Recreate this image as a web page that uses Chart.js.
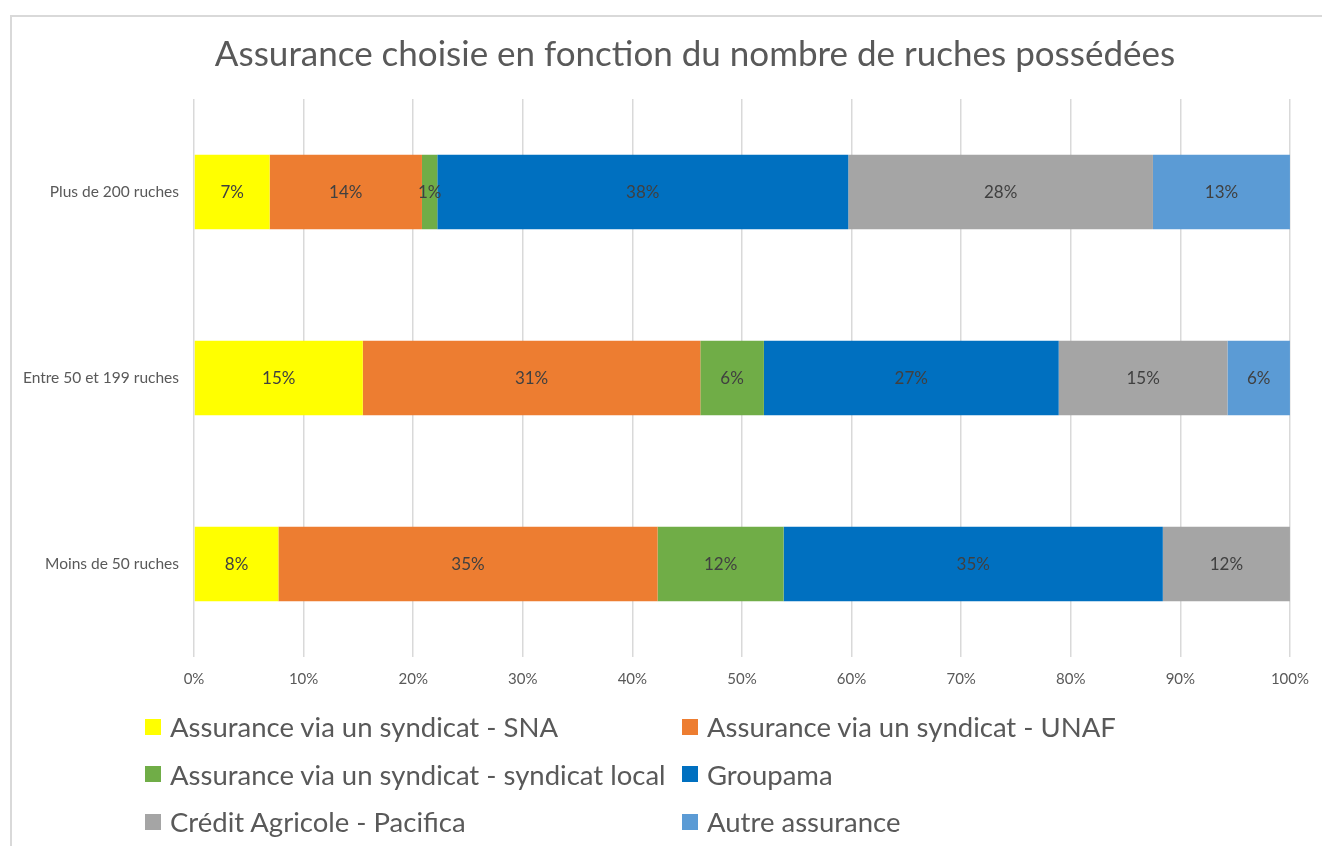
<!DOCTYPE html>
<html>
<head>
<meta charset="utf-8">
<script src="https://cdn.jsdelivr.net/npm/chart.js@4.4.1/dist/chart.umd.min.js"></script>
<style>
  html, body { margin: 0; padding: 0; background: #fff; }
  #wrap { position: relative; width: 1322px; height: 846px; overflow: hidden; font-family: Lato, sans-serif; }
  #frame { position: absolute; left: 10px; top: 15px; width: 1400px; height: 900px;
           border-left: 2px solid #d9d9d9; border-top: 2px solid #d9d9d9; box-sizing: border-box; }
  #chart { position: absolute; left: 0; top: 0; }
  #title { position: absolute; left: 195px; width: 1000px; top: 30px; text-align: center;
           color: #595959; font-size: 35px; line-height: 44px; white-space: nowrap; }
  #legend { position: absolute; left: 145px; top: 703px; display: grid;
            grid-template-columns: 537px 400px; row-gap: 0; }
  .item { display: flex; align-items: center; height: 47.5px; color: #595959; font-size: 27.5px; white-space: nowrap; }
  .box { width: 16px; height: 16px; margin-right: 9px; flex: none; }
</style>
</head>
<body>
<div id="wrap">
  <div id="frame"></div>
  <canvas id="chart" width="1322" height="846"></canvas>
  <div id="title">Assurance choisie en fonction du nombre de ruches possédées</div>
  <div id="legend"></div>
</div>
<script>
// Données (pourcentages par tranche de ruches, de haut en bas)
const categories = ['Plus de 200 ruches', 'Entre 50 et 199 ruches', 'Moins de 50 ruches'];
const seriesNames = [
    'Assurance via un syndicat - SNA',
    'Assurance via un syndicat - UNAF',
    'Assurance via un syndicat - syndicat local',
    'Groupama',
    'Crédit Agricole - Pacifica',
    'Autre assurance'
];
const sna = [6.9, 15.4, 7.7];
const unaf = [13.9, 30.8, 34.6];
const syndicatLocal = [1.4, 5.8, 11.5];
const groupama = [37.5, 26.9, 34.6];
const pacifica = [27.8, 15.4, 11.6];
const autre = [12.5, 5.7, 0];
const xTicks = [0, 10, 20, 30, 40, 50, 60, 70, 80, 90, 100];

const colors = ['#FFFF00', '#ED7D31', '#70AD47', '#0070C0', '#A5A5A5', '#5B9BD5'];
const allValues = [sna, unaf, syndicatLocal, groupama, pacifica, autre];

// étiquettes de données au centre de chaque segment
const barLabels = {
    id: 'barLabels',
    afterDatasetsDraw(chart) {
        const ctx = chart.ctx;
        ctx.save();
        ctx.font = '17px Lato, sans-serif';
        ctx.fillStyle = '#404040';
        ctx.textAlign = 'center';
        ctx.textBaseline = 'middle';
        chart.data.datasets.forEach((ds, i) => {
            const meta = chart.getDatasetMeta(i);
            meta.data.forEach((bar, j) => {
                const v = ds.data[j];
                if (!v) return;
                const p = bar.getProps(['x', 'y', 'base'], true);
                ctx.fillText(Math.round(v) + '%', (p.x + p.base) / 2, p.y + 1);
            });
        });
        ctx.restore();
    }
};

const ctx = document.getElementById('chart').getContext('2d');
new Chart(ctx, {
    type: 'bar',
    data: {
        labels: categories,
        datasets: seriesNames.map((name, i) => ({
            label: name,
            data: allValues[i],
            backgroundColor: colors[i],
            borderWidth: 0,
            barPercentage: 0.4,
            categoryPercentage: 1
        }))
    },
    options: {
        indexAxis: 'y',
        responsive: false,
        animation: false,
        layout: { padding: { left: 0, right: 25, top: 99, bottom: 145 } },
        plugins: {
            legend: { display: false },
            tooltip: { enabled: false },
            title: { display: false }
        },
        scales: {
            x: {
                stacked: true,
                min: 0,
                max: 100,
                afterBuildTicks: (scale) => { scale.ticks = xTicks.map(v => ({ value: v })); },
                grid: { color: '#d9d9d9', lineWidth: 1.5, drawTicks: false },
                border: { display: false },
                ticks: {
                    padding: 13,
                    color: '#595959',
                    font: { family: 'Lato, sans-serif', size: 15 },
                    callback: v => v + '%'
                }
            },
            y: {
                stacked: true,
                grid: { display: false, drawTicks: false },
                border: { display: false },
                afterFit: (scale) => { scale.width = 194; },
                ticks: {
                    padding: 15,
                    color: '#595959',
                    font: { family: 'Lato, sans-serif', size: 15.5 }
                }
            }
        }
    },
    plugins: [barLabels]
});

// légende sur deux colonnes, comme dans l'original
const legend = document.getElementById('legend');
seriesNames.forEach((name, i) => {
    const item = document.createElement('div');
    item.className = 'item';
    item.innerHTML = `<span class="box" style="background:${colors[i]}"></span><span>${name}</span>`;
    legend.appendChild(item);
});
</script>
</body>
</html>
